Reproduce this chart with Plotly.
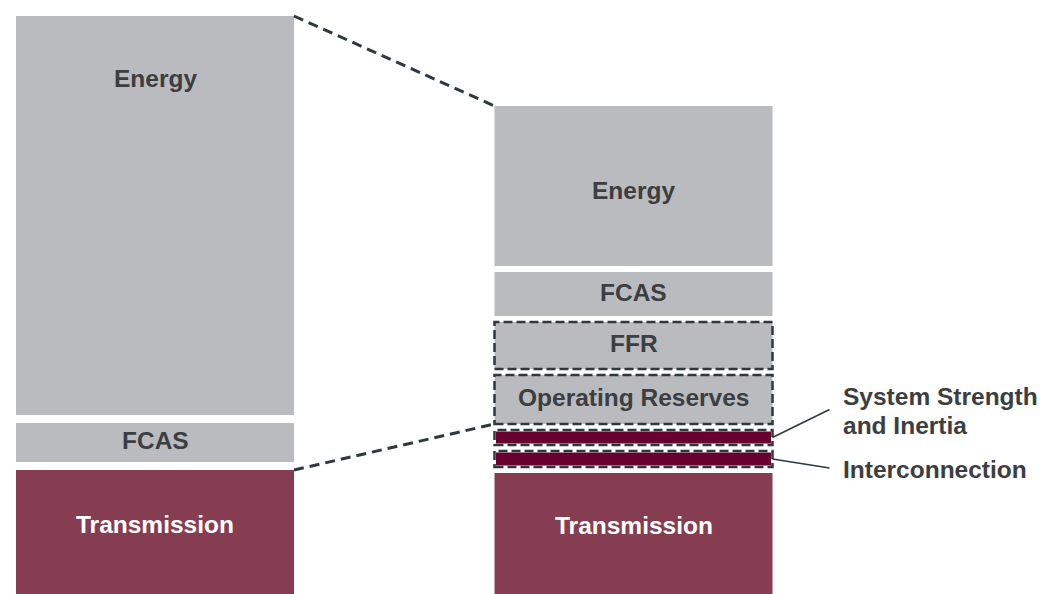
import plotly.graph_objects as go

# ---- data (arbitrary value units, bottom segment first) ----
bar_names = ["Current", "Future"]
left_labels = ["Transmission", "FCAS", "Energy"]
left_values = [124, 39, 399]
right_labels = ["Transmission", "Interconnection", "System Strength and Inertia",
                "Operating Reserves", "FFR", "FCAS", "Energy"]
right_values = [121, 16, 15, 49, 47, 44, 160]

# ---- styles ----
GREY = "#b9bbbe"
MAROON = "#873d51"
DARK_MAROON = "#680030"
TEXT_DARK = "#3c3e41"
DASH_COL = "#2e383e"
colors = {"Transmission": MAROON, "Interconnection": DARK_MAROON,
          "System Strength and Inertia": DARK_MAROON}
dashed = {"Interconnection", "System Strength and Inertia", "Operating Reserves", "FFR"}
callout = {"Interconnection", "System Strength and Inertia"}
FONT = "Liberation Sans"
FS = 24.5
BAR_W = 0.581
gaps = [8, 6]
label_shift = {"Transmission": 8}

def stack(values, gap):
    bases, b = [], 0
    for v in values:
        bases.append(b)
        b += v + gap
    return bases

fig = go.Figure()
shapes, annotations = [], []
stacks = []
for xi, (labels, values, gap) in enumerate([(left_labels, left_values, gaps[0]),
                                            (right_labels, right_values, gaps[1])]):
    bases = stack(values, gap)
    stacks.append((labels, values, bases))
    for lab, v, b in zip(labels, values, bases):
        col = colors.get(lab, GREY)
        inset = lab in callout
        fig.add_trace(go.Bar(
            x=[xi], y=[v], base=[b], width=BAR_W,
            marker=dict(color=col, line=dict(color="white", width=3 if inset else 0)),
            hoverinfo="skip", name=lab))
        if lab in dashed:
            shapes.append(dict(type="rect", xref="x", yref="y",
                               x0=xi - BAR_W / 2, x1=xi + BAR_W / 2, y0=b, y1=b + v,
                               line=dict(color=DASH_COL, width=2.5, dash="9px,4px"),
                               fillcolor="rgba(0,0,0,0)"))
        if lab not in callout:
            is_top_left = (xi == 0 and lab == "Energy")
            if is_top_left:
                ys = -62
            elif xi == 1 and lab == "Energy":
                ys = -4
            else:
                ys = label_shift.get(lab, 2)
            annotations.append(dict(
                x=xi, y=(b + v) if is_top_left else (b + v / 2), xref="x", yref="y",
                yshift=ys, text=lab, showarrow=False,
                font=dict(family=FONT, size=FS, weight="bold",
                          color="white" if col == MAROON else TEXT_DARK)))

# connectors between bars
(lL, lV, lB), (rL, rV, rB) = stacks
left_top = lB[-1] + lV[-1]
right_top = rB[-1] + rV[-1]
left_trans_top = lB[0] + lV[0]
right_or_base = rB[rL.index("Operating Reserves")]
for y0, y1 in [(left_top, right_top), (left_trans_top, right_or_base)]:
    fig.add_trace(go.Scatter(x=[BAR_W / 2, 1 - BAR_W / 2], y=[y0, y1], mode="lines",
                             line=dict(color=DASH_COL, width=3, dash="10px,6px"),
                             hoverinfo="skip"))

# callouts
px_per_x = 478.5
callout_dy = {"System Strength and Inertia": 28, "Interconnection": -9}
callout_lines = {"System Strength and Inertia": ["System Strength", "and Inertia"],
                 "Interconnection": ["Interconnection"]}
for lab in ["System Strength and Inertia", "Interconnection"]:
    i = rL.index(lab)
    yc = rB[i] + rV[i] / 2
    xs = 1 + BAR_W / 2
    xe = xs + 57 / px_per_x
    ye = yc + callout_dy[lab]
    fig.add_trace(go.Scatter(x=[xs, xe], y=[yc, ye], mode="lines",
                             line=dict(color=DASH_COL, width=1.5), hoverinfo="skip"))
    lines = callout_lines[lab]
    n = len(lines)
    for k, t in enumerate(lines):
        off = (k - (n - 1) / 2) * 29
        annotations.append(dict(x=xe, y=ye, xref="x", yref="y", xshift=11,
                                yshift=-off - 1,
                                xanchor="left", yanchor="middle", align="left",
                                text=t, showarrow=False,
                                font=dict(family=FONT, size=FS, weight="bold",
                                          color=TEXT_DARK)))

fig.update_layout(
    width=1040, height=594, margin=dict(l=0, r=0, t=0, b=0),
    paper_bgcolor="white", plot_bgcolor="white", showlegend=False,
    barmode="overlay",
    xaxis=dict(range=[-155 / px_per_x, (1040 - 155) / px_per_x], visible=False),
    yaxis=dict(range=[0, 594], visible=False),
    shapes=shapes, annotations=annotations,
)
fig.write_html("out.html")
